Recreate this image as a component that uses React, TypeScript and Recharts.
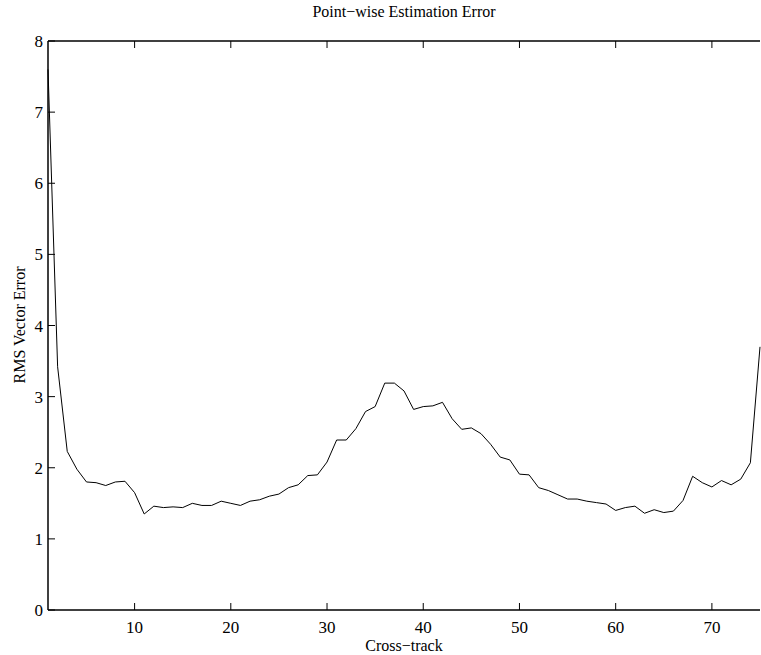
import React from 'react';
import { LineChart, Line, XAxis, YAxis } from 'recharts';

// RMS vector error per cross-track position (1..75)
const rmsError = [
  7.6, 3.42, 2.23, 1.98, 1.8, 1.79, 1.75, 1.8, 1.81, 1.65,
  1.35, 1.46, 1.44, 1.45, 1.44, 1.5, 1.47, 1.47, 1.53, 1.5,
  1.47, 1.53, 1.55, 1.6, 1.63, 1.72, 1.76, 1.89, 1.9, 2.08,
  2.39, 2.39, 2.55, 2.79, 2.86, 3.19, 3.19, 3.08, 2.82, 2.86,
  2.87, 2.92, 2.69, 2.54, 2.56, 2.48, 2.33, 2.15, 2.11, 1.91,
  1.9, 1.72, 1.68, 1.62, 1.56, 1.56, 1.53, 1.51, 1.49, 1.4,
  1.44, 1.46, 1.36, 1.41, 1.37, 1.39, 1.54, 1.88, 1.79, 1.73,
  1.82, 1.76, 1.84, 2.07, 3.7,
];
const crossTrack = rmsError.map((_, i) => i + 1);
const xTicks = [10, 20, 30, 40, 50, 60, 70];
const yTicks = [0, 1, 2, 3, 4, 5, 6, 7, 8];

const data = crossTrack.map((x, i) => ({ x, rms: rmsError[i] }));

const font = '"Liberation Serif", "Times New Roman", serif';

const BottomTick = (props: any) => {
  const { x, y, payload } = props;
  return (
    <g>
      <line x1={x} y1={y} x2={x} y2={y - 7} stroke="#000" strokeWidth={1} />
      <text x={x} y={y + 23} textAnchor="middle" fontSize={17} fontFamily={font} fill="#000">
        {payload.value}
      </text>
    </g>
  );
};

const TopTick = (props: any) => {
  const { x, y } = props;
  return <line x1={x} y1={y} x2={x} y2={y + 7} stroke="#000" strokeWidth={1} />;
};

const LeftTick = (props: any) => {
  const { x, y, payload } = props;
  return (
    <g>
      <line x1={x} y1={y} x2={x + 7} y2={y} stroke="#000" strokeWidth={1} />
      <text x={x - 5} y={y + 6} textAnchor="end" fontSize={17} fontFamily={font} fill="#000">
        {payload.value}
      </text>
    </g>
  );
};

export default function App() {
  return (
    <div style={{ position: 'absolute', left: 0, top: 0, width: 761, height: 655, background: '#fff', fontFamily: font }}>
      <LineChart width={761} height={655} data={data} margin={{ top: 0, right: 1, bottom: 0, left: 0 }}>
        <XAxis
          dataKey="x"
          type="number"
          domain={[1, 75]}
          ticks={xTicks}
          height={45}
          tickSize={0}
          tickMargin={0}
          tickLine={false}
          tick={<BottomTick />}
          axisLine={{ stroke: '#000', strokeWidth: 1.5 }}
        />
        <XAxis
          xAxisId="top"
          orientation="top"
          dataKey="x"
          type="number"
          domain={[1, 75]}
          ticks={xTicks}
          height={41}
          tickSize={0}
          tickMargin={0}
          tickLine={false}
          tick={<TopTick />}
          axisLine={{ stroke: '#000', strokeWidth: 1.5 }}
        />
        <YAxis
          type="number"
          domain={[0, 8]}
          ticks={yTicks}
          width={48}
          tickSize={0}
          tickMargin={0}
          tickLine={false}
          tick={<LeftTick />}
          axisLine={{ stroke: '#000', strokeWidth: 1.5 }}
        />
        <Line
          type="linear"
          dataKey="rms"
          stroke="#000"
          strokeWidth={1}
          dot={false}
          isAnimationActive={false}
        />
      </LineChart>
      <div style={{ position: 'absolute', left: 48, width: 712, top: 3, textAlign: 'center', fontSize: 16, lineHeight: '18px' }}>
        Point−wise Estimation Error
      </div>
      <div style={{ position: 'absolute', left: 48, width: 712, top: 637, textAlign: 'center', fontSize: 16, lineHeight: '18px' }}>
        Cross−track
      </div>
      <div
        style={{
          position: 'absolute',
          left: -80,
          top: 316,
          width: 200,
          textAlign: 'center',
          fontSize: 16,
          lineHeight: '18px',
          transform: 'rotate(-90deg)',
          transformOrigin: 'center',
        }}
      >
        RMS Vector Error
      </div>
    </div>
  );
}
